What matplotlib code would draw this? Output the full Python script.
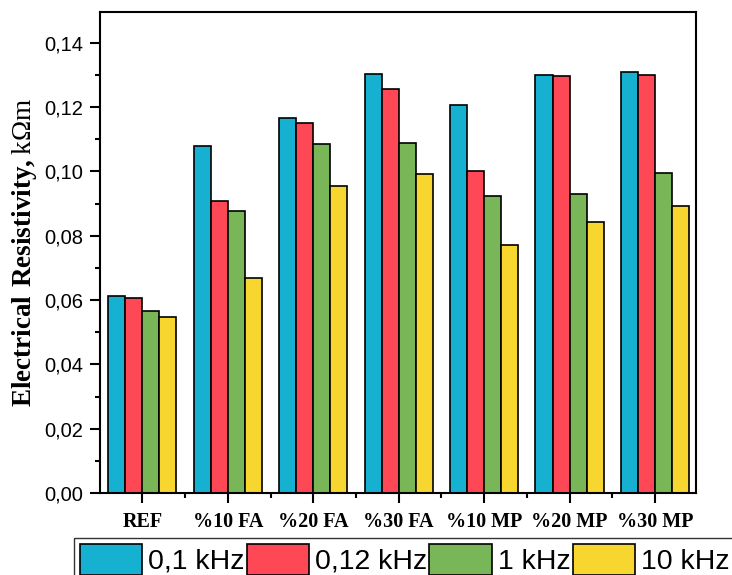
import matplotlib
matplotlib.use("Agg")
import matplotlib.pyplot as plt
import numpy as np
from matplotlib.ticker import MultipleLocator, FuncFormatter

plt.rcParams['font.family'] = ['Liberation Sans', 'DejaVu Sans']
plt.rcParams['mathtext.fontset'] = 'custom'
plt.rcParams['mathtext.rm'] = 'Liberation Serif'
plt.rcParams['mathtext.bf'] = 'Liberation Serif:bold'

# data
categories = ["REF", "%10 FA", "%20 FA", "%30 FA", "%10 MP", "%20 MP", "%30 MP"]
series_names = ["0,1 kHz", "0,12 kHz", "1 kHz", "10 kHz"]
f_01 = [0.0612, 0.1080, 0.1166, 0.1302, 0.1207, 0.1299, 0.1308]
f_012 = [0.0608, 0.0909, 0.1152, 0.1258, 0.1001, 0.1298, 0.1299]
f_1 = [0.0567, 0.0878, 0.1085, 0.1089, 0.0924, 0.0931, 0.0995]
f_10 = [0.0547, 0.0668, 0.0954, 0.0993, 0.0772, 0.0844, 0.0894]

colors = ["#16B0D1", "#FF4856", "#78B657", "#F8D630"]
bar_w = 0.2

fig = plt.figure(figsize=(7.32, 5.75), dpi=100)
ax = fig.add_axes([0.1366, 0.1426, 0.8144, 0.8365])

x = np.arange(len(categories))
for i, (vals, name) in enumerate(zip([f_01, f_012, f_1, f_10], series_names)):
    ax.bar(x + (i - 1.5) * bar_w, vals, bar_w, color=colors[i], edgecolor="black",
           linewidth=1.2, label=name, zorder=2)

ax.set_xlim(-0.495, 6.48)
ax.set_ylim(0, 0.1496)

#ticks
ax.set_xticks(x)
ax.set_xticklabels(categories, fontfamily="Liberation Serif", fontweight="bold", fontsize=14.5)
ax.xaxis.set_minor_locator(MultipleLocator(1, offset=0.5))
ax.yaxis.set_major_locator(MultipleLocator(0.02))
ax.yaxis.set_minor_locator(MultipleLocator(0.01))
ax.yaxis.set_major_formatter(FuncFormatter(lambda v, p: ("%.2f" % v).replace(".", ",")))
ax.tick_params(axis="y", which="major", labelsize=14.5, length=7, width=1.5, direction="out", pad=5)
ax.tick_params(axis="both", which="minor", length=3.5, width=1.5, direction="out")
ax.tick_params(axis="x", which="major", length=7, width=1.5, direction="out", pad=7)
for s in ax.spines.values():
    s.set_linewidth(1.5)

ax.set_ylabel(r"$\mathbf{Electrical\ Resistivity,}\mathrm{k\Omega m}$", fontsize=19.5,
              fontfamily="Liberation Serif", labelpad=4)

#legend below the axes, cut by figure edge like the original
leg = fig.legend(loc="upper left", bbox_to_anchor=(74/732, 1 - 538/575), ncol=4,
                 fontsize=20.5, frameon=True, fancybox=False, edgecolor="black",
                 handlelength=2.2, handleheight=1.3, handletextpad=0.2,
                 columnspacing=0.08, borderpad=0.2, borderaxespad=0)
leg.get_frame().set_linewidth(1.0)

fig.savefig("out.png", dpi=100)
